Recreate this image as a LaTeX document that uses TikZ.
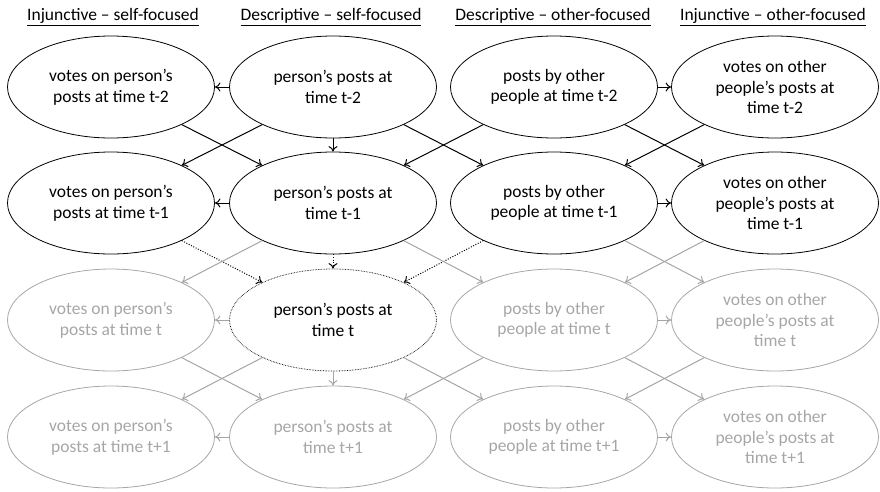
\documentclass[tikz,border=0pt]{standalone}
\usepackage{fontspec}
\setmainfont{Carlito}
\usetikzlibrary{arrows.meta,shapes.geometric}
\definecolor{lg}{RGB}{166,166,166}
\definecolor{lga}{RGB}{165,165,165}
\begin{document}
\begin{tikzpicture}[x=1pt,y=-1pt,
  ell/.style={ellipse, minimum width=207pt, minimum height=102pt, inner sep=0pt, align=center, font=\fontsize{17.5}{20.5}\selectfont, line width=0.8pt},
  dark/.style={ell, draw=black, text=black},
  light/.style={ell, draw=lg, text=lg},
  dotell/.style={ell, draw=black, text=black, dash pattern=on 0.6pt off 1pt},
  arr/.style={-{To[length=5.5pt,width=9pt]}, line width=1pt},
  darr/.style={arr, draw=black},
  garr/.style={arr, draw=lga},
  dotarr/.style={arr, draw=black, dash pattern=on 1pt off 1.6pt},
  hdr/.style={font=\fontsize{17.5}{20}\selectfont, inner sep=0pt}
]
\useasboundingbox (0,0) rectangle (880,491);
% headers
\node[hdr] (h1) at (113,17) {\underline{Injunctive – self-focused}};
\node[hdr] (h2) at (331,17) {\underline{Descriptive – self-focused}};
\node[hdr] (h3) at (553,17) {\underline{Descriptive – other-focused}};
\node[hdr] (h4) at (773,17) {\underline{Injunctive – other-focused}};
% row t-2
\node[dark] (a1) at (111,87) {votes on person’s\\posts at time t-2};
\node[dark] (a2) at (333,87) {person’s posts at\\time t-2};
\node[dark] (a3) at (554,87) {posts by other\\people at time t-2};
\node[dark] (a4) at (775,87) {votes on other\\people’s posts at\\time t-2};
% row t-1
\node[dark] (b1) at (111,203) {votes on person’s\\posts at time t-1};
\node[dark] (b2) at (333,203) {person’s posts at\\time t-1};
\node[dark] (b3) at (554,203) {posts by other\\people at time t-1};
\node[dark] (b4) at (775,203) {votes on other\\people’s posts at\\time t-1};
% row t
\node[light] (c1) at (111,320) {votes on person’s\\posts at time t};
\node[dotell] (c2) at (333,320) {person’s posts at\\time t};
\node[light] (c3) at (554,320) {posts by other\\people at time t};
\node[light] (c4) at (775,320) {votes on other\\people’s posts at\\time t};
% row t+1
\node[light] (d1) at (111,437) {votes on person’s\\posts at time t+1};
\node[light] (d2) at (333,437) {person’s posts at\\time t+1};
\node[light] (d3) at (554,437) {posts by other\\people at time t+1};
\node[light] (d4) at (775,437) {votes on other\\people’s posts at\\time t+1};
% horizontal
\draw[darr] (a2.west) -- (a1.east);
\draw[darr] (a3.east) -- (a4.west);
\draw[darr] (b2.west) -- (b1.east);
\draw[darr] (b3.east) -- (b4.west);
\draw[garr] (c2.west) -- (c1.east);
\draw[garr] (c3.east) -- (c4.west);
\draw[garr] (d2.west) -- (d1.east);
\draw[garr] (d3.east) -- (d4.west);
% vertical
\draw[darr] (a2.south) -- (b2.north);
\draw[dotarr] (b2.south) -- (c2.north);
\draw[garr] (c2.south) -- (d2.north);
% diagonals t-2 -> t-1
\draw[darr] (a1.-28) -- (b2.152);
\draw[darr] (a2.-152) -- (b1.28);
\draw[darr] (a2.-28) -- (b3.152);
\draw[darr] (a3.-152) -- (b2.28);
\draw[darr] (a3.-28) -- (b4.152);
\draw[darr] (a4.-152) -- (b3.28);
% t-1 -> t
\draw[dotarr] (b1.-28) -- (c2.152);
\draw[dotarr] (b3.-152) -- (c2.28);
\draw[garr] (b2.-152) -- (c1.28);
\draw[garr] (b2.-28) -- (c3.152);
\draw[garr] (b3.-28) -- (c4.152);
\draw[garr] (b4.-152) -- (c3.28);
% t -> t+1
\draw[garr] (c1.-28) -- (d2.152);
\draw[garr] (c2.-152) -- (d1.28);
\draw[garr] (c2.-28) -- (d3.152);
\draw[garr] (c3.-152) -- (d2.28);
\draw[garr] (c3.-28) -- (d4.152);
\draw[garr] (c4.-152) -- (d3.28);
\end{tikzpicture}
\end{document}
